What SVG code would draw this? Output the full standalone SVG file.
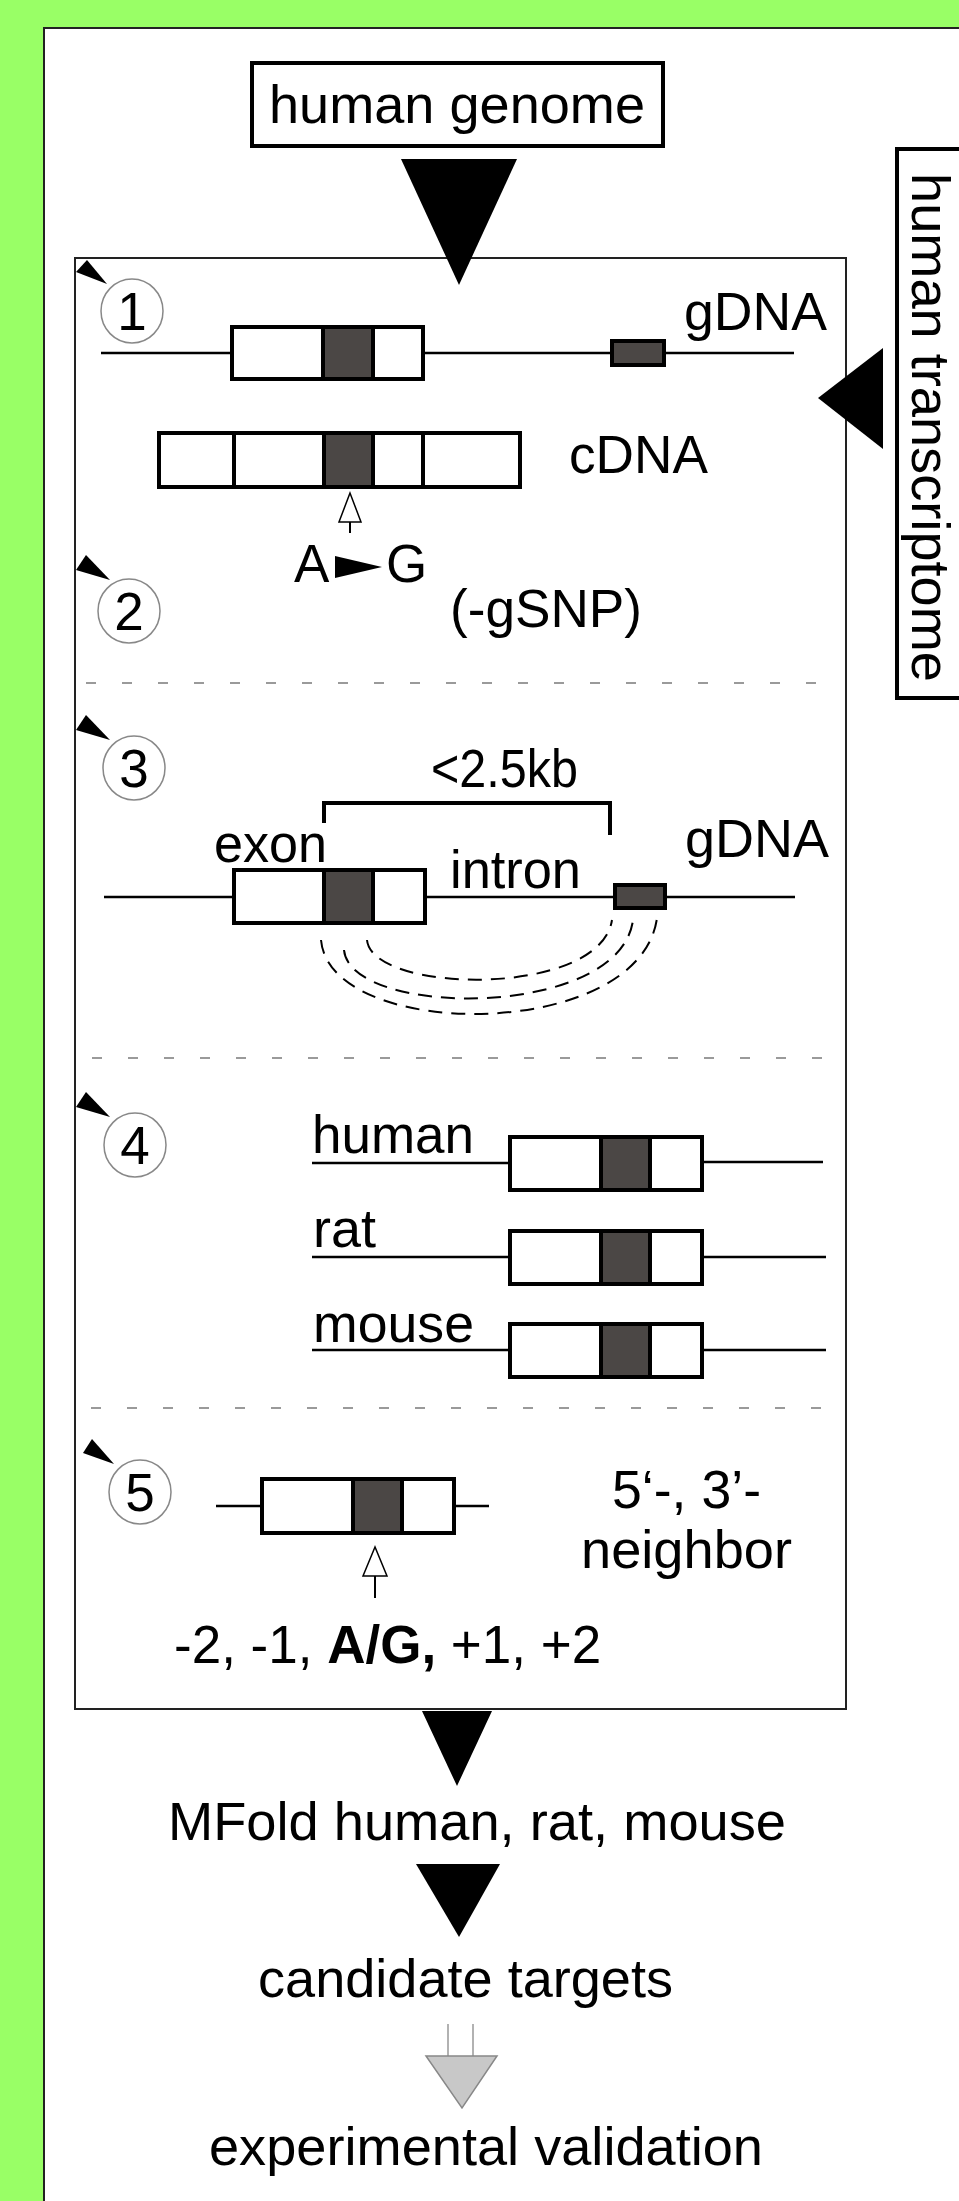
<svg xmlns="http://www.w3.org/2000/svg" width="959" height="2201" viewBox="0 0 959 2201">
  <style>
    .t { font-family: "Liberation Sans", Arial, sans-serif; font-size: 53px; fill: #000; }
    .b { font-weight: bold; }
    .frame { fill: #fff; stroke: #222; stroke-width: 2; }
    .lbl { fill: #fff; stroke: #000; stroke-width: 4; }
    .gene { fill: #fff; stroke: #000; stroke-width: 4; }
    .snp { fill: #4b4745; stroke: #000; stroke-width: 4; }
    .dna { stroke: #000; stroke-width: 2.5; fill: none; }
    .thick { stroke: #000; stroke-width: 4; fill: none; }
    .stem { stroke: #000; stroke-width: 2; fill: none; }
    .sep { stroke: #9a9a9a; stroke-width: 2; stroke-dasharray: 10 26; fill: none; }
    .loop { stroke: #000; stroke-width: 2; stroke-dasharray: 14 9; fill: none; }
    .num { fill: #fff; stroke: #888; stroke-width: 1.5; }
    .flow { fill: #000; }
    .open { fill: #fff; stroke: #000; stroke-width: 1.5; }
  </style>

  <!-- background and panels -->
  <rect x="0" y="0" width="959" height="2201" fill="#99ff66"/>
  <rect class="frame" x="44" y="28" width="940" height="2200"/>
  <rect class="frame" x="75" y="258" width="771" height="1451"/>

  <!-- separators between steps -->
  <g id="separators">
    <line class="sep" x1="86" y1="683" x2="826" y2="683"/>
    <line class="sep" x1="92" y1="1058" x2="826" y2="1058"/>
    <line class="sep" x1="91" y1="1408" x2="826" y2="1408"/>
  </g>

  <!-- flow arrows -->
  <g id="connectors">
    <polygon class="flow" points="401,159 517,159 459,285"/>
    <polygon class="flow" points="883,348 818,398 883,449"/>
    <polygon class="flow" points="422,1711 492,1711 457,1786"/>
    <polygon class="flow" points="416,1864 500,1864 459,1937"/>
    <line x1="448" y1="2024" x2="448" y2="2056" stroke="#999" stroke-width="1.5"/>
    <line x1="473" y1="2024" x2="473" y2="2056" stroke="#999" stroke-width="1.5"/>
    <polygon points="426,2056 497,2056 462,2108" fill="#c8c8c8" stroke="#888" stroke-width="1.5"/>
  </g>

  <!-- sources -->
  <g id="human-genome">
    <rect class="lbl" x="252" y="63" width="411" height="83"/>
    <text class="t" x="457" y="123" text-anchor="middle" font-size="54" textLength="376" lengthAdjust="spacingAndGlyphs">human genome</text>
  </g>
  <g id="human-transcriptome">
    <rect class="lbl" x="897" y="149" width="80" height="549"/>
    <text class="t" transform="translate(912,173) rotate(90)" font-size="52" textLength="509" lengthAdjust="spacingAndGlyphs">human transcriptome</text>
  </g>

  <!-- step 1: gDNA vs cDNA -->
  <g id="step1">
    <polygon class="flow" points="87,260 76,272 107,284"/>
    <ellipse class="num" cx="132" cy="311" rx="31" ry="32"/>
    <text class="t" x="132" y="330" text-anchor="middle">1</text>
    <line class="dna" x1="101" y1="353" x2="794" y2="353"/>
    <rect class="gene" x="232" y="327" width="191" height="52"/>
    <rect class="snp" x="323" y="327" width="50" height="52"/>
    <rect class="snp" x="612" y="341" width="52" height="24"/>
    <text class="t" x="684" y="330" textLength="143" lengthAdjust="spacingAndGlyphs">gDNA</text>
    <rect class="gene" x="159" y="433" width="361" height="54"/>
    <line class="thick" x1="234" y1="433" x2="234" y2="487"/>
    <line class="thick" x1="423" y1="433" x2="423" y2="487"/>
    <rect class="snp" x="324" y="433" width="49" height="54"/>
    <text class="t" x="569" y="473" textLength="139" lengthAdjust="spacingAndGlyphs">cDNA</text>
    <line class="stem" x1="350" y1="522" x2="350" y2="533"/>
    <polygon class="open" points="350,493 339,522 361,522"/>
  </g>

  <!-- step 2: genomic SNP filter -->
  <g id="step2">
    <polygon class="flow" points="86,555 76,570 110,580"/>
    <ellipse class="num" cx="129" cy="611" rx="31" ry="32"/>
    <text class="t" x="129" y="630" text-anchor="middle">2</text>
    <text class="t" x="294" y="582">A</text>
    <polygon class="flow" points="335,556 335,578 382,567"/>
    <text class="t" x="386" y="582">G</text>
    <text class="t" x="450" y="627" textLength="192" lengthAdjust="spacingAndGlyphs">(-gSNP)</text>
  </g>

  <!-- step 3: intron distance -->
  <g id="step3">
    <polygon class="flow" points="86,715 76,730 110,740"/>
    <ellipse class="num" cx="134" cy="768" rx="31" ry="32"/>
    <text class="t" x="134" y="787" text-anchor="middle">3</text>
    <text class="t" x="431" y="787" font-size="49" textLength="147" lengthAdjust="spacingAndGlyphs">&lt;2.5kb</text>
    <polyline class="thick" points="324,823 324,803 610,803 610,835"/>
    <text class="t" x="214" y="862" textLength="113" lengthAdjust="spacingAndGlyphs">exon</text>
    <text class="t" x="450" y="888" textLength="131" lengthAdjust="spacingAndGlyphs">intron</text>
    <text class="t" x="685" y="857" textLength="144" lengthAdjust="spacingAndGlyphs">gDNA</text>
    <line class="dna" x1="104" y1="897" x2="795" y2="897"/>
    <rect class="gene" x="234" y="870" width="191" height="53"/>
    <rect class="snp" x="324" y="870" width="49" height="53"/>
    <rect class="snp" x="615" y="885" width="50" height="23"/>
    <path class="loop" d="M321,940 C330,1042 640,1042 657,918"/>
    <path class="loop" d="M344,950 C350,1018 620,1020 633,920"/>
    <path class="loop" d="M367,940 C372,994 600,998 612,920"/>
  </g>

  <!-- step 4: conservation in human, rat, mouse -->
  <g id="step4">
    <polygon class="flow" points="86,1092 76,1107 110,1117"/>
    <ellipse class="num" cx="135" cy="1145" rx="31" ry="32"/>
    <text class="t" x="135" y="1164" text-anchor="middle">4</text>
    <text class="t" x="312" y="1153" textLength="162" lengthAdjust="spacingAndGlyphs">human</text>
    <line class="dna" x1="312" y1="1163" x2="510" y2="1163"/>
    <line class="dna" x1="702" y1="1162" x2="823" y2="1162"/>
    <rect class="gene" x="510" y="1137" width="192" height="53"/>
    <rect class="snp" x="601" y="1137" width="49" height="53"/>
    <text class="t" x="313" y="1247" textLength="63" lengthAdjust="spacingAndGlyphs">rat</text>
    <line class="dna" x1="312" y1="1257" x2="510" y2="1257"/>
    <line class="dna" x1="702" y1="1257" x2="826" y2="1257"/>
    <rect class="gene" x="510" y="1231" width="192" height="53"/>
    <rect class="snp" x="601" y="1231" width="49" height="53"/>
    <text class="t" x="313" y="1342" textLength="161" lengthAdjust="spacingAndGlyphs">mouse</text>
    <line class="dna" x1="312" y1="1350" x2="510" y2="1350"/>
    <line class="dna" x1="702" y1="1350" x2="826" y2="1350"/>
    <rect class="gene" x="510" y="1324" width="192" height="53"/>
    <rect class="snp" x="601" y="1324" width="49" height="53"/>
  </g>

  <!-- step 5: neighbouring bases -->
  <g id="step5">
    <polygon class="flow" points="92,1439 83,1453 114,1464"/>
    <ellipse class="num" cx="140" cy="1492" rx="31" ry="32"/>
    <text class="t" x="140" y="1511" text-anchor="middle">5</text>
    <line class="dna" x1="216" y1="1506" x2="262" y2="1506"/>
    <line class="dna" x1="454" y1="1506" x2="489" y2="1506"/>
    <rect class="gene" x="262" y="1479" width="192" height="54"/>
    <rect class="snp" x="353" y="1479" width="49" height="54"/>
    <line class="stem" x1="375" y1="1576" x2="375" y2="1598"/>
    <polygon class="open" points="375,1547 363,1576 387,1576"/>
    <text class="t" x="612" y="1508" textLength="149" lengthAdjust="spacingAndGlyphs">5‘-, 3’-</text>
    <text class="t" x="581" y="1568" textLength="211" lengthAdjust="spacingAndGlyphs">neighbor</text>
    <text class="t" x="174" y="1663">-2, -1, <tspan class="b">A/G,</tspan> +1, +2</text>
  </g>

  <!-- downstream steps -->
  <g id="mfold">
    <text class="t" x="168" y="1840" textLength="618" lengthAdjust="spacingAndGlyphs">MFold human, rat, mouse</text>
  </g>
  <g id="candidates">
    <text class="t" x="258" y="1997" textLength="415" lengthAdjust="spacingAndGlyphs">candidate targets</text>
  </g>
  <g id="validation">
    <text class="t" x="209" y="2165" textLength="554" lengthAdjust="spacingAndGlyphs">experimental validation</text>
  </g>
</svg>
